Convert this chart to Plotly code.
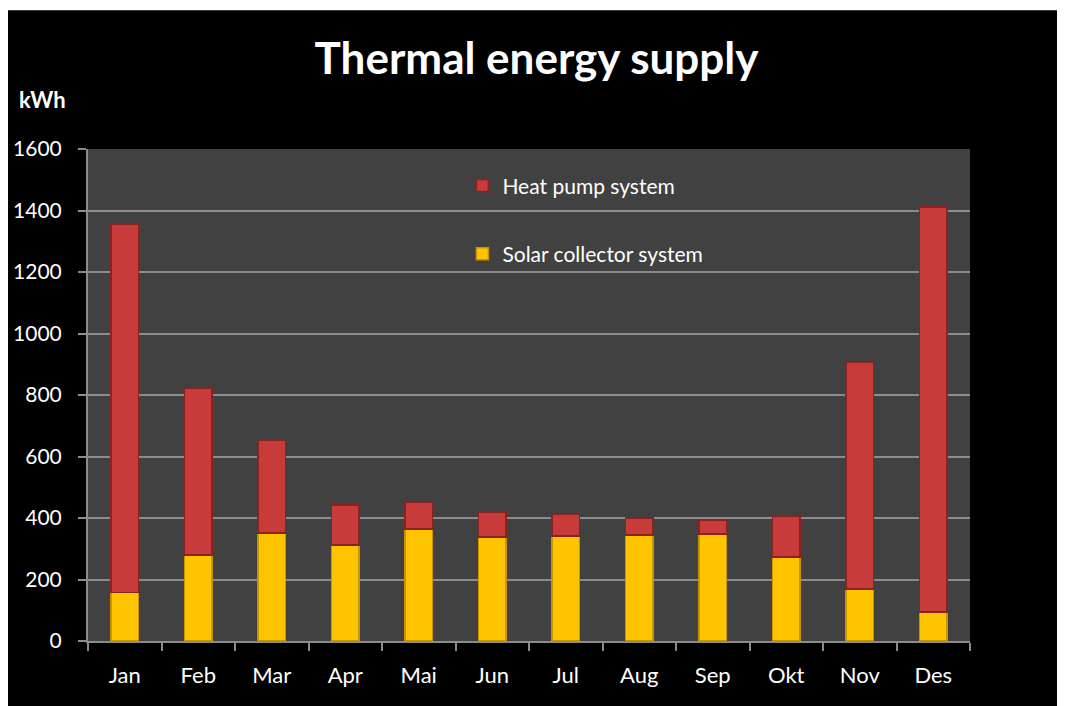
import plotly.graph_objects as go

months = ["Jan", "Feb", "Mar", "Apr", "Mai", "Jun", "Jul", "Aug", "Sep", "Okt", "Nov", "Des"]
solar = [157, 280, 351, 312, 364, 338, 341, 345, 348, 273, 169, 94]
heat_pump = [1199, 543, 303, 130, 88, 82, 72, 55, 45, 134, 738, 1317]
y_ticks = [0, 200, 400, 600, 800, 1000, 1200, 1400, 1600]

FONT = "Lato"

fig = go.Figure()
fig.add_trace(go.Bar(
    x=months, y=solar, name="Solar collector system",
    marker=dict(color="#FFC400", line=dict(color="#C89400", width=1.5)),
    legendrank=2, legendgroup="s",
))
fig.add_trace(go.Bar(
    x=months, y=heat_pump, name="Heat pump system",
    marker=dict(color="#C73B3B", line=dict(color="#8A2222", width=1.5)),
    legendrank=1, legendgroup="h",
))

shapes = [
    dict(type="rect", xref="paper", yref="paper", x0=0, x1=1, y0=0, y1=1,
         fillcolor="#414141", line=dict(width=0), layer="below"),
    dict(type="rect", xref="paper", yref="paper", x0=-0.2, x1=1.2, y0=1.282, y1=1.4,
         fillcolor="white", line=dict(width=0), layer="below"),
]

fig.update_layout(
    width=1057, height=698,
    margin=dict(l=80, r=95, t=141, b=65),
    paper_bgcolor="black",
    plot_bgcolor="rgba(0,0,0,0)",
    barmode="stack",
    bargap=0.62,
    shapes=shapes,
    font=dict(family=FONT, color="white", size=21),
    title=dict(text="<b>Thermal energy supply</b>", x=0.5, xanchor="center",
               y=0.927, yanchor="middle", font=dict(family=FONT, size=44, color="white")),
    legend=dict(x=0.4245, y=0.967, xanchor="left", yanchor="top", traceorder="grouped",
                tracegroupgap=38, bgcolor="rgba(0,0,0,0)",
                font=dict(family=FONT, size=21, color="white"), itemwidth=30),
    annotations=[dict(text="<b>kWh</b>", xref="paper", yref="paper", x=-0.0805, y=1.0996,
                      xanchor="left", yanchor="middle", showarrow=False,
                      font=dict(family=FONT, size=22, color="white"))],
    xaxis=dict(showline=True, linecolor="#8C8C8C", linewidth=2, ticks="outside",
               ticklen=8, tickcolor="#8C8C8C", tickwidth=2, tickson="boundaries",
               ticklabelstandoff=14, automargin=False,
               tickfont=dict(family=FONT, size=22, color="white"), showgrid=False),
    yaxis=dict(range=[0, 1600], tickvals=y_ticks, showline=True, linecolor="#8C8C8C",
               linewidth=2, ticks="outside", ticklen=8, tickcolor="#8C8C8C", tickwidth=2,
               gridcolor="#8C8C8C", gridwidth=2, zeroline=False, ticklabelstandoff=12,
               automargin=False,
               tickfont=dict(family=FONT, size=21, color="white")),
)

fig.write_html("out.html")
